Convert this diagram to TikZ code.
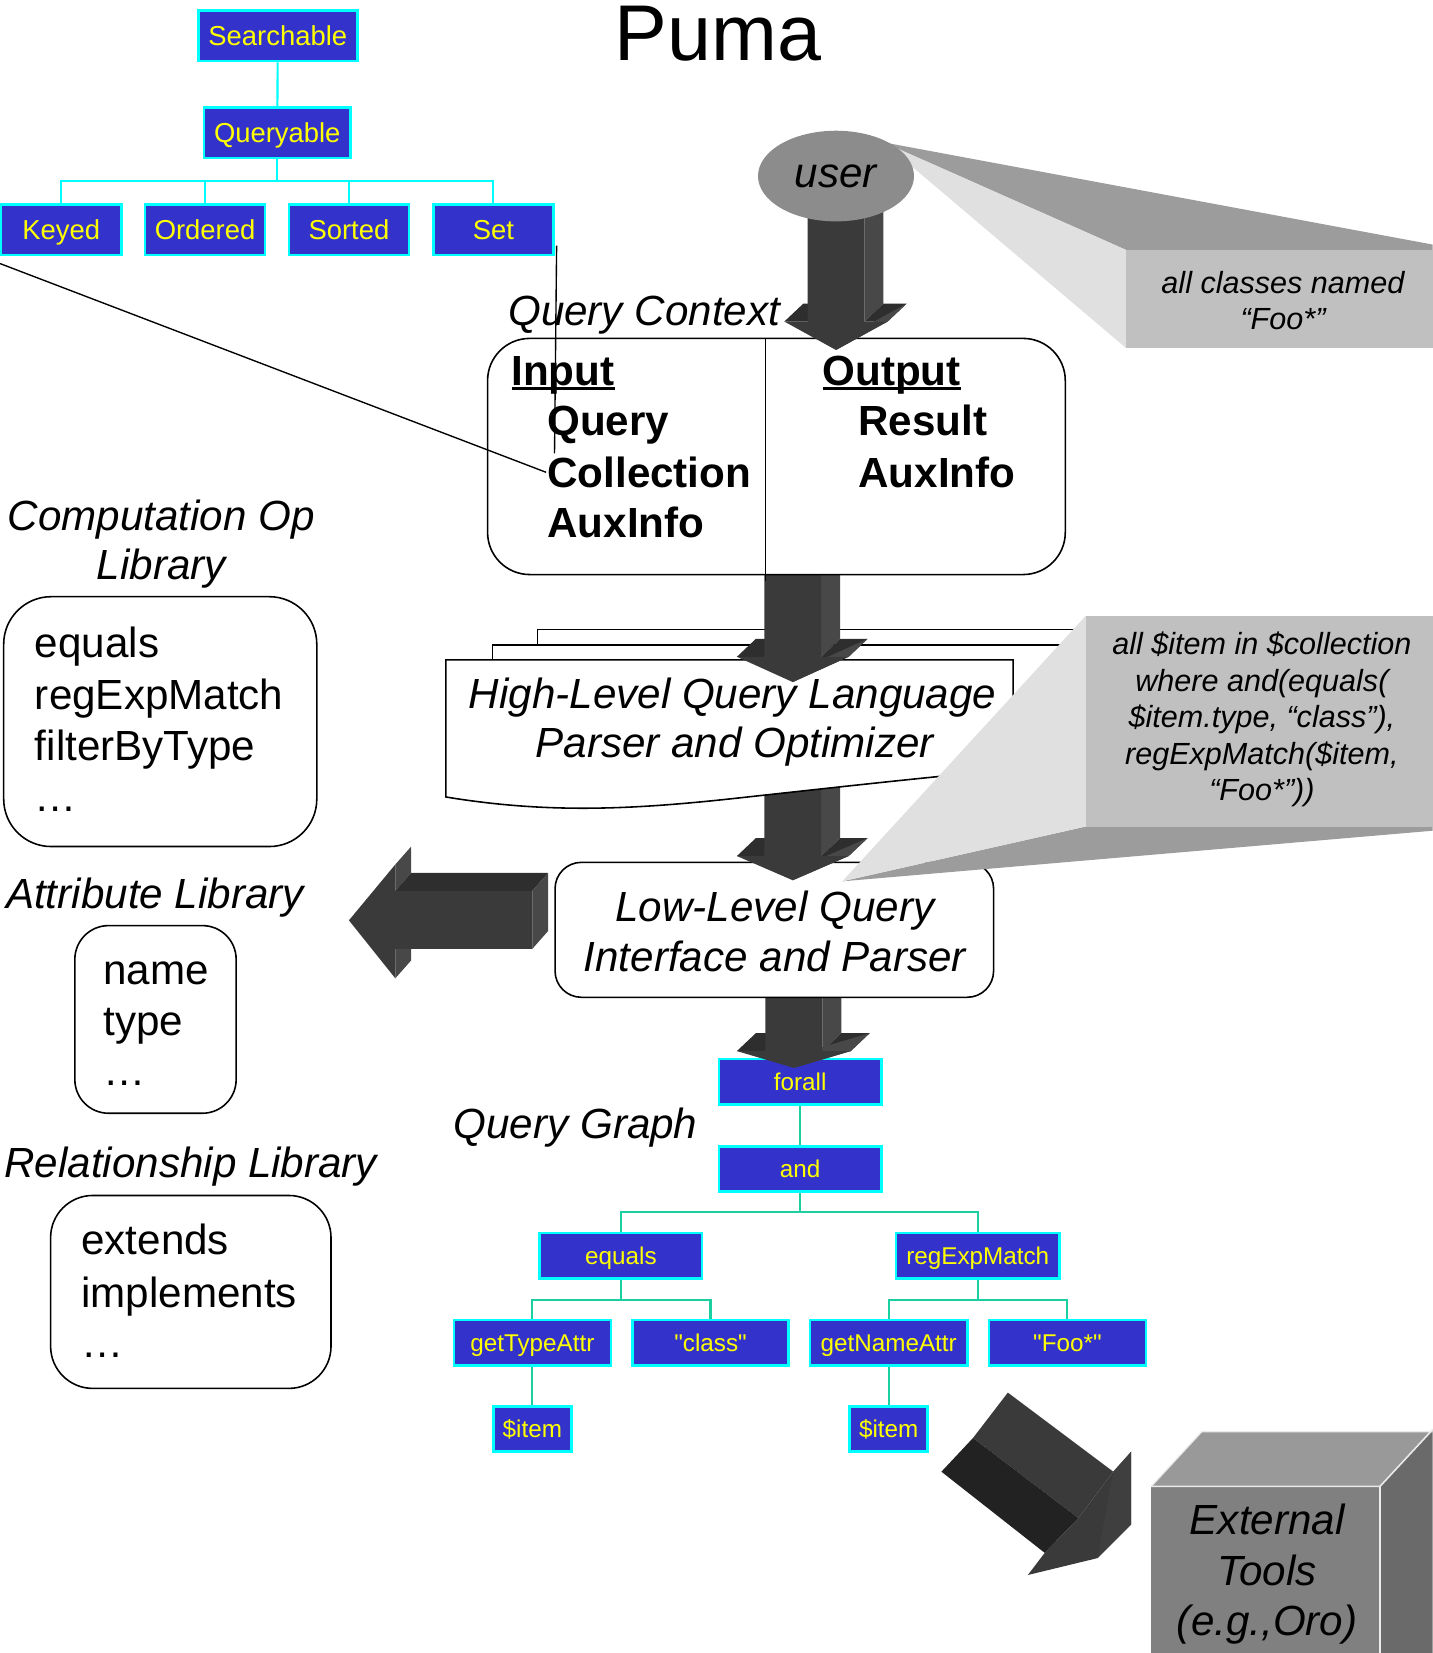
\documentclass[tikz,border=0pt]{standalone}
\usepackage{fontspec}
\setmainfont{Liberation Sans}
\newfontfamily\qgfont{Liberation Sans}[Ligatures=TeXOff]
\usetikzlibrary{calc,shapes.geometric}
\definecolor{qblue}{HTML}{3333CC}
\definecolor{qcyan}{HTML}{00FFFF}
\definecolor{qyellow}{HTML}{FFFF00}
\definecolor{qteal}{HTML}{1CCFA0}
\definecolor{cArrFront}{HTML}{3A3A3A}
\definecolor{cArrSide}{HTML}{484848}
\definecolor{cArrTop}{HTML}{2E2E2E}
\definecolor{cArrDeep}{HTML}{222222}
\definecolor{cArrHead}{HTML}{3F3F3F}
\definecolor{cCallDark}{HTML}{9C9C9C}
\definecolor{cCallLight}{HTML}{E0E0E0}
\definecolor{cCallFront}{HTML}{C0C0C0}
\definecolor{cUser}{HTML}{8C8C8C}
\definecolor{cCubeFront}{HTML}{808080}
\definecolor{cCubeTop}{HTML}{999999}
\definecolor{cCubeSide}{HTML}{6A6A6A}
\newsavebox\ulsavebox
\newcommand\ulbox[1]{\sbox\ulsavebox{#1}\rlap{\rule[-4pt]{\wd\ulsavebox}{3pt}}\usebox\ulsavebox}
\newcommand\arrdx{18}
\newcommand\arrdy{-17}
% cx, ty, hy, tipy, sw, hw
\newcommand\threeDdown[6]{%
  \fill[cArrSide] ({#1+#5},{#2}) -- ({#1+#5+\arrdx},{#2+\arrdy}) -- ({#1+#5+\arrdx},{#3+\arrdy}) -- ({#1+#5},{#3}) -- cycle;
  \fill[cArrTop] ({#1-#5},{#2}) -- ({#1-#5+\arrdx},{#2+\arrdy}) -- ({#1+#5+\arrdx},{#2+\arrdy}) -- ({#1+#5},{#2}) -- cycle;
  \fill[cArrTop] ({#1-#6},{#3}) -- ({#1-#6+\arrdx},{#3+\arrdy}) -- ({#1-#5+\arrdx},{#3+\arrdy}) -- ({#1-#5},{#3}) -- cycle;
  \fill[cArrTop] ({#1+#5},{#3}) -- ({#1+#5+\arrdx},{#3+\arrdy}) -- ({#1+#6+\arrdx},{#3+\arrdy}) -- ({#1+#6},{#3}) -- cycle;
  \fill[cArrSide] ({#1+#6},{#3}) -- ({#1+#6+\arrdx},{#3+\arrdy}) -- ({#1+\arrdx},{#4+\arrdy}) -- ({#1},{#4}) -- cycle;
  \fill[cArrFront] ({#1-#5},{#2}) -- ({#1+#5},{#2}) -- ({#1+#5},{#3}) -- ({#1+#6},{#3}) -- ({#1},{#4}) -- ({#1-#6},{#3}) -- ({#1-#5},{#3}) -- cycle;
}
\tikzset{
  hbox/.style={draw=qcyan, fill=qblue, line width=2.5pt, text=qyellow, inner sep=0pt,
    minimum width=114pt, minimum height=48pt, font=\fontsize{26}{30}\selectfont,
    text height=19pt, text depth=0pt},
  gbox/.style={draw=qcyan, fill=qblue, line width=2.5pt, text=qyellow, inner sep=0pt,
    minimum width=154pt, minimum height=43pt, font=\qgfont\fontsize{23}{28}\selectfont,
    text height=16.5pt, text depth=0pt},
  hlink/.style={draw=qcyan, line width=2pt},
  glink/.style={draw=qteal, line width=2pt},
  rbox/.style={draw=black, fill=white, line width=1.5pt, inner sep=0pt},
  page/.style={draw=black, fill=white, line width=1.5pt},
  thinline/.style={draw=black, line width=1.3pt},
  bigit/.style={inner sep=0pt, font=\fontsize{40}{48}\selectfont\itshape},
  bigrm/.style={inner sep=0pt, font=\fontsize{40}{48}\selectfont},
  bigbf/.style={inner sep=0pt, font=\fontsize{40}{48}\selectfont\bfseries},
  smit/.style={inner sep=0pt, font=\fontsize{29}{35}\selectfont\itshape},
}
\begin{document}
\begin{tikzpicture}[x=1pt,y=-1pt]
\useasboundingbox (0,0) rectangle (1359,1568);
\fill[white] (0,0) rectangle (1359,1568);

% ---------- class hierarchy ----------
\node[hbox, minimum width=151pt] (searchable) at (263.5,34) {Searchable};
\node[hbox, minimum width=139pt] (queryable) at (263,126) {Queryable};
\node[hbox] (keyed) at (58,218) {Keyed};
\node[hbox] (ordered) at (194.5,218) {Ordered};
\node[hbox] (sorted) at (331,218) {Sorted};
\node[hbox] (set) at (468,218) {Set};
\coordinate (hbus) at (263,172);
\draw[hlink] (searchable) -- (queryable);
\draw[hlink] (queryable.south) -- (hbus) -| (keyed.north);
\draw[hlink] (hbus) -| (ordered.north);
\draw[hlink] (hbus) -| (sorted.north);
\draw[hlink] (hbus) -| (set.north);

% ---------- title ----------
\node[inner sep=0pt, anchor=base, font=\fontsize{75}{80}\selectfont] (title) at (681,57) {Puma};

% ---------- query graph ----------
\node[gbox] (forall) at (759,1026) {forall};
\node[gbox] (and) at (759,1109) {and};
\node[gbox] (equals) at (589,1191) {equals};
\node[gbox, minimum width=155pt] (regexp) at (927.5,1191) {regExpMatch};
\node[gbox, minimum width=149pt] (gettype) at (505,1273.5) {getTypeAttr};
\node[gbox, minimum width=148pt] (class) at (674,1273.5) {"class"};
\node[gbox, minimum width=149pt] (getname) at (843,1273.5) {getNameAttr};
\node[gbox, minimum width=149pt] (foo) at (1012.5,1273.5) {"Foo*"};
\node[gbox, minimum width=74pt] (item1) at (505,1355.5) {\$item};
\node[gbox, minimum width=74pt] (item2) at (843,1355.5) {\$item};
\coordinate (gbus1) at (759,1150);
\coordinate (gbus2) at (589,1233);
\coordinate (gbus3) at (927.5,1233);
\draw[glink] (forall) -- (and);
\draw[glink] (and.south) -- (gbus1) -| (equals.north);
\draw[glink] (gbus1) -| (regexp.north);
\draw[glink] (equals.south) -- (gbus2) -| (gettype.north);
\draw[glink] (gbus2) -| (class.north);
\draw[glink] (regexp.south) -- (gbus3) -| (getname.north);
\draw[glink] (gbus3) -| (foo.north);
\draw[glink] (gettype) -- (item1);
\draw[glink] (getname) -- (item2);
\node[bigit, anchor=base] (qglabel) at (546,1080) {Query Graph};

% arrow LLQ -> forall
\threeDdown{753}{940}{997}{1013}{27}{54}

% ---------- low-level box ----------
\node[rbox, minimum width=416pt, minimum height=128pt, rounded corners=25pt] (llq) at (734.5,882) {};
\node[bigit, anchor=base] (llqa) at (735,874) {Low-Level Query};
\node[bigit, anchor=base] (llqb) at (735,922) {Interface and Parser};

% arrow HLQ -> LLQ
\threeDdown{752}{740}{812}{835}{27}{53}

% ---------- high-level pages ----------
\filldraw[page] (510,597) rectangle (1025,700);
\filldraw[page] (467,612) rectangle (1010,710);
\filldraw[page] (423,626) -- (961,626) -- (961,730) .. controls (900,735) and (800,746) .. (700,757) .. controls (600,768) and (520,772) .. (423,756) -- cycle;
\node[bigit, anchor=base] (hlqa) at (695,672) {High-Level Query Language};
\node[bigit, anchor=base] (hlqb) at (697,719) {Parser and Optimizer};

% arrow QC -> HLQ
\threeDdown{752}{540}{623}{647}{27}{53}

% ---------- query context ----------
\node[rbox, minimum width=548pt, minimum height=224pt, rounded corners=40pt] (qc) at (736.5,433) {};
\coordinate (div1) at (726,322);
\coordinate (div2) at (726,551);
\draw[thinline] (div1) -- (div2);
\node[bigit, anchor=base] (qclabel) at (611,309) {Query Context};
\node[bigbf, anchor=base west] (inp) at (485,366) {\ulbox{Input}};
\node[bigbf, anchor=base west] (inq) at (519,413) {Query};
\node[bigbf, anchor=base west] (inc) at (519,462) {Collection};
\node[bigbf, anchor=base west] (ina) at (519,510) {AuxInfo};
\node[bigbf, anchor=base west] (outp) at (780,366) {\ulbox{Output}};
\node[bigbf, anchor=base west] (outr) at (814,413) {Result};
\node[bigbf, anchor=base west] (outa) at (814,462) {AuxInfo};

% ---------- callout 1 ----------
\fill[cCallDark] (838,135) -- (1359,232) -- (1359,237) -- (1068,237) -- cycle;
\fill[cCallLight] (838,135) -- (1068,237) -- (1068,330) -- cycle;
\fill[cCallFront] (1068,237) rectangle (1359,330);
\node[smit, anchor=base] (c1a) at (1217,278) {all classes named};
\node[smit, anchor=base] (c1b) at (1217,313) {“Foo*”};

% arrow user -> QC
\threeDdown{793}{200}{305}{332}{27}{49}

% user
\node[ellipse, fill=cUser, minimum width=148pt, minimum height=86pt, inner sep=0pt,
      font=\fontsize{40}{48}\selectfont\itshape, text height=21pt, text depth=0pt] (user) at (793,167) {user};

% ---------- callout 2 ----------
\fill[cCallDark] (799,836) -- (1030,784) -- (1359,784) -- (1359,788) -- cycle;
\fill[cCallLight] (799,836) -- (1030,584) -- (1030,784) -- cycle;
\fill[cCallFront] (1030,584) rectangle (1359,784);
\node[smit, anchor=base] (c2a) at (1197,621) {all \$item in \$collection};
\node[smit, anchor=base] (c2b) at (1197,656) {where and(equals(};
\node[smit, anchor=base] (c2c) at (1197,690) {\$item.type, “class”),};
\node[smit, anchor=base] (c2d) at (1197,725) {regExpMatch(\$item,};
\node[smit, anchor=base] (c2e) at (1197,759) {“Foo*”))};

% ---------- left arrow ----------
\fill[cArrSide] (375,820) -- (390,803) -- (390,828) -- (375,845) -- cycle;
\fill[cArrSide] (375,900) -- (390,883) -- (390,911) -- (375,928) -- cycle;
\fill[cArrTop] (375,845) -- (390,828) -- (520,828) -- (505,845) -- cycle;
\fill[cArrSide] (505,845) -- (520,828) -- (520,883) -- (505,900) -- cycle;
\fill[cArrFront] (331,873) -- (375,820) -- (375,845) -- (505,845) -- (505,900) -- (375,900) -- (375,928) -- cycle;

% ---------- diagonal arrow ----------
\fill[cArrFront] (923,1364) -- (956,1321) -- (1056,1396) -- (1023,1440) -- cycle;
\fill[cArrDeep] (893,1396) -- (923,1364) -- (1023,1440) -- (991,1473) -- cycle;
\fill[cArrFront] (1023,1440) -- (1056,1396) -- (1073,1377) -- (1073,1446) -- (1041,1478) -- (975,1494) -- (991,1473) -- cycle;
\fill[cArrHead] (1056,1396) -- (1073,1377) -- (1073,1446) -- (1041,1478) -- cycle;

% ---------- external tools cube ----------
\fill[cCubeTop] (1092,1410) -- (1140,1358) -- (1359,1358) -- (1309,1410) -- cycle;
\fill[cCubeSide] (1309,1410) -- (1359,1356) -- (1359,1568) -- (1309,1568) -- cycle;
\fill[cCubeFront] (1092,1410) rectangle (1309,1568);
\draw[white!92!black, line width=1.5pt] (1092,1410) -- (1309,1410) -- (1359,1356);
\draw[white!92!black, line width=1.5pt] (1309,1410) -- (1309,1568);
\draw[white!92!black, line width=1.2pt] (1092,1410) -- (1140,1358) -- (1359,1358);
\node[bigit, anchor=base] (exta) at (1202,1456) {External};
\node[bigit, anchor=base] (extb) at (1202,1504) {Tools};
\node[bigit, anchor=base] (extc) at (1202,1551) {(e.g.,Oro)};

% ---------- left column ----------
\node[bigit, anchor=base] (complbla) at (153,503) {Computation Op};
\node[bigit, anchor=base] (complblb) at (153,550) {Library};
\node[rbox, minimum width=297pt, minimum height=237pt, rounded corners=45pt] (comp) at (152,684.5) {};
\node[bigrm, anchor=base west] (compa) at (33,624) {equals};
\node[bigrm, anchor=base west] (compb) at (33,673) {regExpMatch};
\node[bigrm, anchor=base west] (compc) at (33,721) {filterByType};
\node[bigrm, anchor=base west] (compd) at (33,770) {…};

\node[bigit, anchor=base] (attrlbl) at (147,862) {Attribute Library};
\node[rbox, minimum width=153pt, minimum height=178pt, rounded corners=32pt] (attr) at (147.5,967) {};
\node[bigrm, anchor=base west] (attra) at (98,934) {name};
\node[bigrm, anchor=base west] (attrb) at (98,982) {type};
\node[bigrm, anchor=base west] (attrc) at (98,1030) {…};

\node[bigit, anchor=base] (rellbl) at (181,1117) {Relationship Library};
\node[rbox, minimum width=266pt, minimum height=183pt, rounded corners=40pt] (rel) at (181,1225.5) {};
\node[bigrm, anchor=base west] (rela) at (77,1190) {extends};
\node[bigrm, anchor=base west] (relb) at (77,1240) {implements};
\node[bigrm, anchor=base west] (relc) at (77,1288) {…};

% ---------- stray lines ----------
\coordinate (dla) at (0,250);
\coordinate (dlb) at (518,448);
\draw[thinline] (dla) -- (dlb);
\coordinate (vla) at (528,233);
\coordinate (vlb) at (526,430);
\draw[thinline] (vla) -- (vlb);
\end{tikzpicture}
\end{document}
